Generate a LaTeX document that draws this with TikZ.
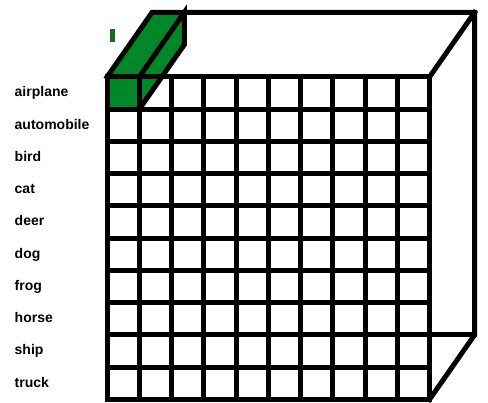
\documentclass[tikz,border=0pt]{standalone}
\usepackage{fontspec}
\setmainfont{Liberation Sans}
\usetikzlibrary{calc}
\definecolor{cellgreen}{RGB}{0,135,40}
\definecolor{markgreen}{RGB}{25,105,35}

\begin{document}
\begin{tikzpicture}[
  x=1pt, y=-1pt,
  gridline/.style={line width=5pt, line cap=rect},
  edge/.style={line width=5pt, line join=miter, line cap=rect},
  greenface/.style={fill=cellgreen},
  classlabel/.style={anchor=base west, inner sep=0pt,
                     font=\fontsize{14}{16}\selectfont\bfseries},
]
\useasboundingbox (0,0) rectangle (488,403);
\pgfmathsetmacro{\cw}{32.25}

% Box corners (front face and back face)
\coordinate (fa) at (107,77);
\coordinate (fb) at (429.5,77);
\coordinate (fc) at (429.5,399.5);
\coordinate (ba) at (152,12.5);
\coordinate (bb) at (474.5,12.5);
\coordinate (bc) at (474.5,335);

% Green column through the box
\coordinate (ga) at (139.25,77);
\coordinate (gb) at (184.25,12.5);
\coordinate (gc) at (184.25,44.75);
\coordinate (gd) at (139.25,109.25);
\fill[greenface] (fa) -- (ga) -- (gb) -- (ba) -- cycle;
\fill[greenface] (ga) -- (gb) -- (gc) -- (gd) -- cycle;
\fill[greenface] (fa) rectangle (gd);

% Grid on the front face
\foreach \i in {1,...,9} {
  \draw[gridline] ($(fa)+(\i*\cw,0)$) -- ($(fa)+(\i*\cw,10*\cw)$);
  \draw[gridline] ($(fa)+(0,\i*\cw)$) -- ($(fa)+(10*\cw,\i*\cw)$);
}
\draw[edge] (fa) rectangle (fc);

% Box edges
\draw[edge] (fa) -- (ba) -- (bb) -- (bc) -- (fc);
\draw[edge] (fb) -- (bb);
\draw[edge] (bc) -- (fb |- bc);
\draw[edge] (ga) -- (gb) -- (gc) -- (gd);

% Marker above the column
\node[fill=markgreen, minimum width=5pt, minimum height=13pt, inner sep=0pt] (mark) at (112.3,35.5) {};

% Class labels
\foreach \lbl [count=\r from 0] in {airplane,automobile,bird,cat,deer,dog,frog,horse,ship,truck}
  \node[classlabel] (\lbl) at (14.5,{77+(\r+0.5)*\cw+3.8}) {\lbl};
\end{tikzpicture}
\end{document}
